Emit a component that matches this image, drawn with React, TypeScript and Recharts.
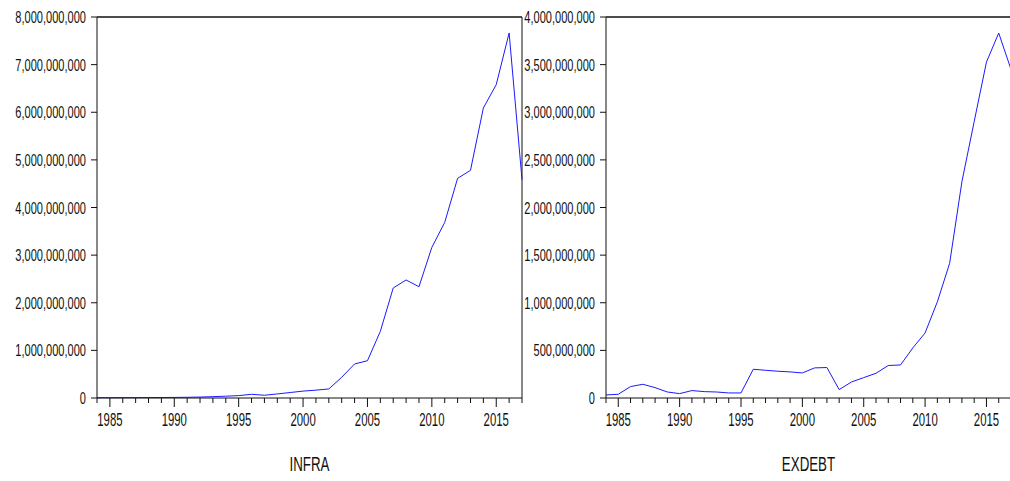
import React from 'react';
import { LineChart, Line, XAxis, YAxis, ReferenceLine, Label } from 'recharts';

const years = [
  1984, 1985, 1986, 1987, 1988, 1989, 1990, 1991, 1992, 1993, 1994, 1995,
  1996, 1997, 1998, 1999, 2000, 2001, 2002, 2003, 2004, 2005, 2006, 2007,
  2008, 2009, 2010, 2011, 2012, 2013, 2014, 2015, 2016, 2017,
];

const infra = [
  5e6, 6e6, 7e6, 8e6, 9e6, 10e6, 12e6, 15e6, 20e6, 28e6, 38e6, 50e6,
  78e6, 58e6, 85e6, 115e6, 145e6, 165e6, 190e6, 435e6, 714e6, 783e6, 1399e6, 2310e6,
  2478e6, 2337e6, 3163e6, 3688e6, 4612e6, 4780e6, 6090e6, 6580e6, 7665e6, 4584e6,
];

const exdebt = [
  32e6, 39e6, 120e6, 144e6, 109e6, 63e6, 46e6, 78e6, 67e6, 63e6, 53e6, 53e6,
  302e6, 291e6, 281e6, 274e6, 263e6, 316e6, 320e6, 88e6, 168e6, 214e6, 260e6, 341e6,
  347e6, 526e6, 683e6, 1010e6, 1414e6, 2271e6, 2902e6, 3527e6, 3832e6, 3450e6,
];

const infraTicks = [0, 1e9, 2e9, 3e9, 4e9, 5e9, 6e9, 7e9, 8e9];
const exdebtTicks = [0, 5e8, 1e9, 1.5e9, 2e9, 2.5e9, 3e9, 3.5e9, 4e9];

const infraData = years.map((year, i) => ({ year, value: infra[i] }));
const exdebtData = years.map((year, i) => ({ year, value: exdebt[i] }));

// Tall, condensed sans lettering: regular sans squeezed horizontally
const FONT = "'Liberation Sans', Arial, sans-serif";
const SQUEEZE = 0.65;
const INK = '#111';

const fmt = (v: number) => v.toLocaleString('en-US');

// Year axis: long ticks with labels every five years, short ticks in between
const YearTick = (props: any) => {
  const { x, y, payload } = props;
  const v = payload.value as number;
  const major = v % 5 === 0;
  return (
    <g>
      <line x1={x} y1={y} x2={x} y2={y + (major ? 9 : 5)} stroke={INK} strokeWidth={1} />
      {major && (
        <text
          x={0}
          y={0}
          textAnchor="middle"
          fontSize={17.5}
          fontFamily={FONT}
          fill={INK}
          transform={`translate(${x}, ${y + 28}) scale(${SQUEEZE}, 1)`}
        >
          {v}
        </text>
      )}
    </g>
  );
};

const ValueTick = (props: any) => {
  const { x, y, payload } = props;
  return (
    <text
      x={0}
      y={0}
      textAnchor="end"
      fontSize={17}
      fontFamily={FONT}
      fill={INK}
      transform={`translate(${x}, ${y + 6}) scale(${SQUEEZE}, 1)`}
    >
      {fmt(payload.value)}
    </text>
  );
};

const TitleLabel = (title: string) => (props: any) => {
  const vb = props.viewBox;
  const cx = vb.x + vb.width / 2;
  return (
    <text
      x={0}
      y={0}
      textAnchor="middle"
      fontSize={20.5}
      fontFamily={FONT}
      fill={INK}
      transform={`translate(${cx}, 471) scale(${SQUEEZE}, 1)`}
    >
      {title}
    </text>
  );
};

type PanelProps = {
  data: { year: number; value: number }[];
  ticks: number[];
  max: number;
  title: string;
  width: number;
};

const Panel = ({ data, ticks, max, title, width }: PanelProps) => (
  <LineChart
    width={width}
    height={481}
    data={data}
    margin={{ top: 17, right: 1, bottom: 0, left: 0 }}
  >
    <XAxis
      dataKey="year"
      type="number"
      domain={[1984, 2017]}
      ticks={years}
      interval={0}
      tick={<YearTick />}
      tickLine={false}
      tickSize={0}
      tickMargin={0}
      axisLine={{ stroke: INK, strokeWidth: 1 }}
      height={83}
    >
      <Label content={TitleLabel(title)} />
    </XAxis>
    <YAxis
      type="number"
      domain={[0, max]}
      ticks={ticks}
      interval={0}
      width={97}
      tick={<ValueTick />}
      tickSize={6}
      tickMargin={5}
      tickLine={{ stroke: INK, strokeWidth: 1 }}
      axisLine={{ stroke: INK, strokeWidth: 1 }}
    />
    <ReferenceLine y={max} stroke={INK} strokeWidth={1.4} />
    <ReferenceLine x={2017} stroke={INK} strokeWidth={1} />
    <Line
      type="linear"
      dataKey="value"
      stroke="#1a1aff"
      strokeWidth={1}
      dot={false}
      isAnimationActive={false}
    />
  </LineChart>
);

export default function App() {
  return (
    <div
      style={{
        position: 'absolute',
        left: 0,
        top: 0,
        width: 1010,
        height: 481,
        overflow: 'hidden',
        background: '#fff',
      }}
    >
      <div style={{ position: 'absolute', left: 0, top: 0 }}>
        <Panel data={infraData} ticks={infraTicks} max={8e9} title="INFRA" width={523} />
      </div>
      <div style={{ position: 'absolute', left: 509, top: 0 }}>
        <Panel data={exdebtData} ticks={exdebtTicks} max={4e9} title="EXDEBT" width={503} />
      </div>
    </div>
  );
}
